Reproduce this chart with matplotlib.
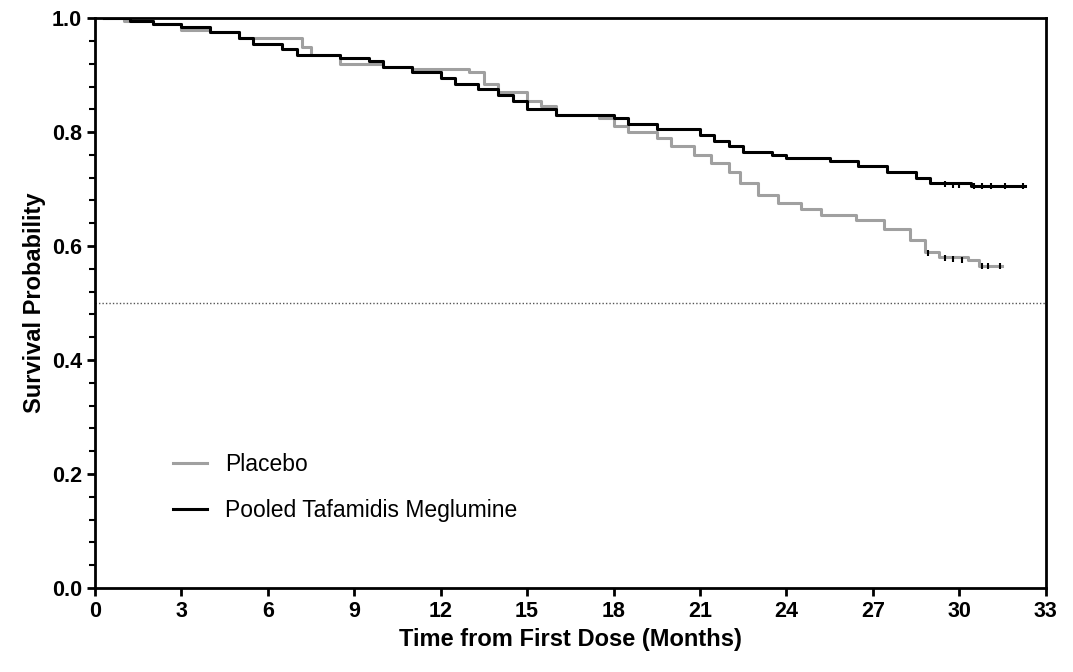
import numpy as np
import matplotlib.pyplot as plt
from matplotlib.ticker import MultipleLocator

plt.rcParams['font.family'] = ['Liberation Sans', 'DejaVu Sans']

# step knots (time in months, survival probability)
placebo_t = [0.3, 1.0, 2.0, 3.0, 4.0, 5.0, 7.2, 7.5, 8.5, 10.0, 11.0, 13.0, 13.5, 14.0, 15.0, 15.5, 16.0,
             17.5, 18.0, 18.5, 19.5, 20.0, 20.8, 21.4, 22.0, 22.4, 23.0, 23.7, 24.5, 25.2, 26.4, 27.4,
             28.3, 28.8, 29.3, 30.3, 30.7, 31.5]
placebo_s = [1.0, 0.995, 0.99, 0.98, 0.975, 0.965, 0.95, 0.935, 0.92, 0.915, 0.91, 0.905, 0.885, 0.87,
             0.855, 0.845, 0.83, 0.825, 0.81, 0.80, 0.79, 0.775, 0.76, 0.745, 0.73, 0.71, 0.69, 0.675,
             0.665, 0.655, 0.645, 0.63, 0.61, 0.59, 0.58, 0.575, 0.565, 0.565]
taf_t = [0.3, 1.2, 2.0, 3.0, 4.0, 5.0, 5.5, 6.5, 7.0, 8.5, 9.5, 10.0, 11.0, 12.0, 12.5, 13.3, 14.0, 14.5,
         15.0, 16.0, 18.0, 18.5, 19.5, 21.0, 21.5, 22.0, 22.5, 23.5, 24.0, 25.5, 26.5, 27.5, 28.5, 29.0,
         30.4, 32.3]
taf_s = [1.0, 0.995, 0.99, 0.985, 0.975, 0.965, 0.955, 0.945, 0.935, 0.93, 0.925, 0.915, 0.905, 0.895,
         0.885, 0.875, 0.865, 0.855, 0.84, 0.83, 0.825, 0.815, 0.805, 0.795, 0.785, 0.775, 0.765, 0.76,
         0.755, 0.75, 0.74, 0.73, 0.72, 0.71, 0.705, 0.705]
placebo_cens = [28.9, 29.5, 29.8, 30.1, 30.8, 31.0, 31.4]
taf_cens = [29.5, 29.8, 30.0, 30.5, 30.8, 31.1, 31.6, 32.2]

fig = plt.figure(figsize=(10.73, 6.72), dpi=100)
ax = fig.add_axes([0.0885, 0.125, 0.886, 0.848])

ax.step(placebo_t, placebo_s, where='post', color='#a0a0a0', lw=2.2, label='Placebo')
ax.step(taf_t, taf_s, where='post', color='black', lw=2.2, label='Pooled Tafamidis Meglumine')
ax.plot(placebo_cens, np.interp(placebo_cens, placebo_t, placebo_s), '|', color='black', ms=5, mew=1.5)
ax.plot(taf_cens, np.interp(taf_cens, taf_t, taf_s), '|', color='black', ms=5, mew=1.5)
ax.axhline(0.5, color='#555555', lw=1, ls=(0, (1, 1.5)))

ax.set_xlim(0, 33)
ax.set_ylim(0, 1.0)
ax.set_xticks(np.arange(0, 34, 3))
ax.set_yticks(np.arange(0, 1.01, 0.2))
ax.set_yticklabels(['0.0', '0.2', '0.4', '0.6', '0.8', '1.0'])
ax.yaxis.set_minor_locator(MultipleLocator(0.04))
for s in ax.spines.values():
    s.set_linewidth(2)
ax.tick_params(which='major', width=2, length=6, labelsize=15.5)
ax.tick_params(which='minor', width=1.5, length=4)
for lbl in ax.get_xticklabels() + ax.get_yticklabels():
    lbl.set_fontweight('bold')
ax.set_xlabel('Time from First Dose (Months)', fontsize=17, fontweight='bold')
ax.set_ylabel('Survival Probability', fontsize=17, fontweight='bold')

ax.legend(loc='lower left', bbox_to_anchor=(0.06, 0.08), frameon=False, fontsize=16.5,
          handlelength=1.5, labelspacing=1.0)

fig.savefig('out.png')
